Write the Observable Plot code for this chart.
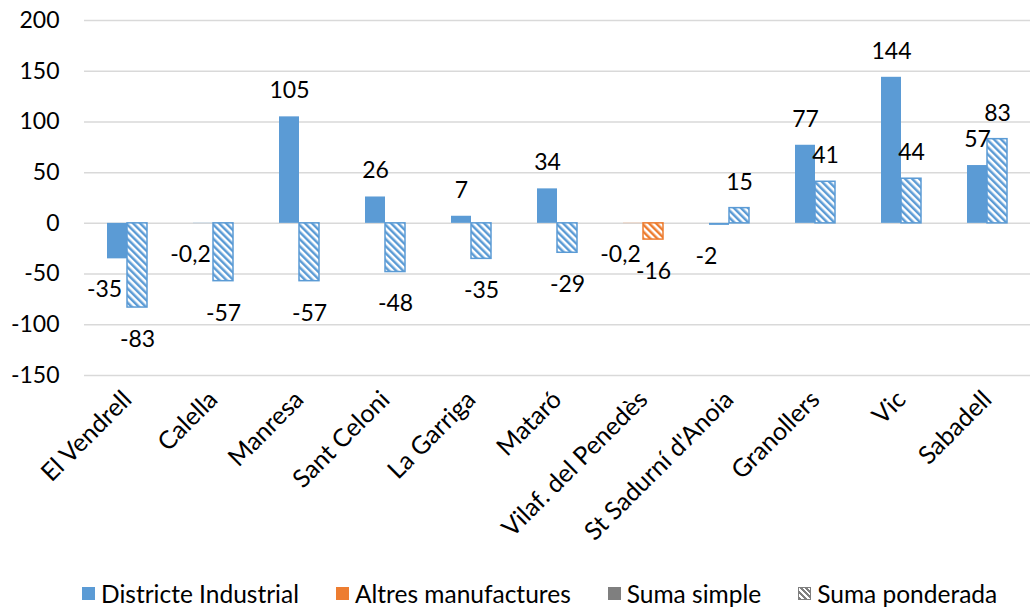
<!DOCTYPE html>
<html>
<head>
<meta charset="utf-8">
<script src="https://cdn.jsdelivr.net/npm/d3@7"></script>
<script src="https://cdn.jsdelivr.net/npm/@observablehq/plot@0.6"></script>
<style>
  body { margin: 0; background: #fff; font-family: Lato, "Open Sans", sans-serif; }
  #legend { display: flex; align-items: center; height: 36px; padding-left: 82px; font-size: 24.5px; color: #000; }
  .item { display: flex; align-items: center; margin-right: 37px; }
  .sw { width: 13px; height: 13px; margin-right: 6px; box-sizing: border-box; }
</style>
</head>
<body>
<div id="chart"></div>
<div id="legend"></div>
<script>
const categories = ["El Vendrell", "Calella", "Manresa", "Sant Celoni", "La Garriga", "Mataró", "Vilaf. del Penedès", "St Sadurní d'Anoia", "Granollers", "Vic", "Sabadell"];
const groups = ["Districte Industrial", "Districte Industrial", "Districte Industrial", "Districte Industrial", "Districte Industrial", "Districte Industrial", "Altres manufactures", "Districte Industrial", "Districte Industrial", "Districte Industrial", "Districte Industrial"];
const sumaSimple = [-35, -0.2, 105, 26, 7, 34, -0.2, -2, 77, 144, 57];
const sumaPonderada = [-83, -57, -57, -48, -35, -29, -16, 15, 41, 44, 83];
const yTicks = [-150, -100, -50, 0, 50, 100, 150, 200];
const series = ["Suma simple", "Suma ponderada"];
const legendItems = ["Districte Industrial", "Altres manufactures", "Suma simple", "Suma ponderada"];

const groupColor = {"Districte Industrial": "#5B9BD5", "Altres manufactures": "#ED7D31"};
const hatchId = {"Districte Industrial": "hatch-blue", "Altres manufactures": "hatch-orange"};

const data = categories.flatMap((c, i) => [
  {category: c, serie: series[0], value: sumaSimple[i], group: groups[i]},
  {category: c, serie: series[1], value: sumaPonderada[i], group: groups[i]}
]);
const fmt = v => String(v).replace(".", ",");

const marks = [];
for (const g of Object.keys(groupColor)) {
  marks.push(Plot.barY(data.filter(d => d.serie === series[0] && d.group === g), {
    fx: "category", x: "serie", y: "value", fill: groupColor[g]
  }));
  marks.push(Plot.barY(data.filter(d => d.serie === series[1] && d.group === g), {
    fx: "category", x: "serie", y: "value", fill: `url(#${hatchId[g]})`,
    stroke: groupColor[g], strokeWidth: 1.5
  }));
}
marks.push(Plot.text(data.filter(d => d.value >= 0), {
  fx: "category", x: "serie", y: "value", text: d => fmt(d.value), dy: -26, fill: "#000"
}));
marks.push(Plot.text(data.filter(d => d.value < 0 && d.serie === series[0]), {
  fx: "category", x: "serie", y: "value", text: d => fmt(d.value), dy: 31, dx: -13, fill: "#000"
}));
marks.push(Plot.text(data.filter(d => d.value < 0 && d.serie === series[1]), {
  fx: "category", x: "serie", y: "value", text: d => fmt(d.value), dy: 32, fill: "#000"
}));

const chart = Plot.plot({
  width: 1036,
  height: 575,
  marginTop: 20,
  marginBottom: 200,
  marginLeft: 84,
  marginRight: 6,
  style: {fontSize: "23px", fontFamily: "Lato, 'Open Sans', sans-serif", color: "#000", background: "#fff"},
  fx: {domain: categories, padding: 0, label: null, axis: "bottom", tickRotate: -45, tickSize: 0, tickPadding: 20},
  x: {domain: series, paddingInner: 0, paddingOuter: 1.083, axis: null},
  y: {domain: [-150, 200], ticks: yTicks, tickFormat: d => String(d), label: null, tickSize: 0, tickPadding: 25, grid: true},
  marks
});

const svg = d3.select(chart);
const defs = svg.insert("defs", ":first-child");
for (const g of Object.keys(groupColor)) {
  const p = defs.append("pattern").attr("id", hatchId[g]).attr("patternUnits", "userSpaceOnUse")
    .attr("width", 5).attr("height", 5).attr("patternTransform", "rotate(-45)");
  p.append("rect").attr("width", 5).attr("height", 5).attr("fill", "#fff");
  p.append("rect").attr("width", 2.5).attr("height", 5).attr("fill", groupColor[g]);
}
svg.selectAll("[aria-label='y-grid'] line, g[aria-label='y-axis'] line").attr("stroke", "#d9d9d9").attr("stroke-opacity", 1).attr("stroke-width", 1.5);
svg.selectAll("g[aria-label^='fx-axis'] text").style("font-size", "25px");
document.getElementById("chart").appendChild(chart);

const legend = document.getElementById("legend");
const swatchStyle = {
  "Districte Industrial": "background:#5B9BD5;",
  "Altres manufactures": "background:#ED7D31;",
  "Suma simple": "background:#7F7F7F;",
  "Suma ponderada": "border:1.5px solid #7F7F7F;background:repeating-linear-gradient(45deg,#7F7F7F 0 2px,#fff 2px 4px);"
};
for (const name of legendItems) {
  const it = document.createElement("div");
  it.className = "item";
  it.innerHTML = `<span class="sw" style="${swatchStyle[name]}"></span><span>${name}</span>`;
  legend.appendChild(it);
}
</script>
</body>
</html>
